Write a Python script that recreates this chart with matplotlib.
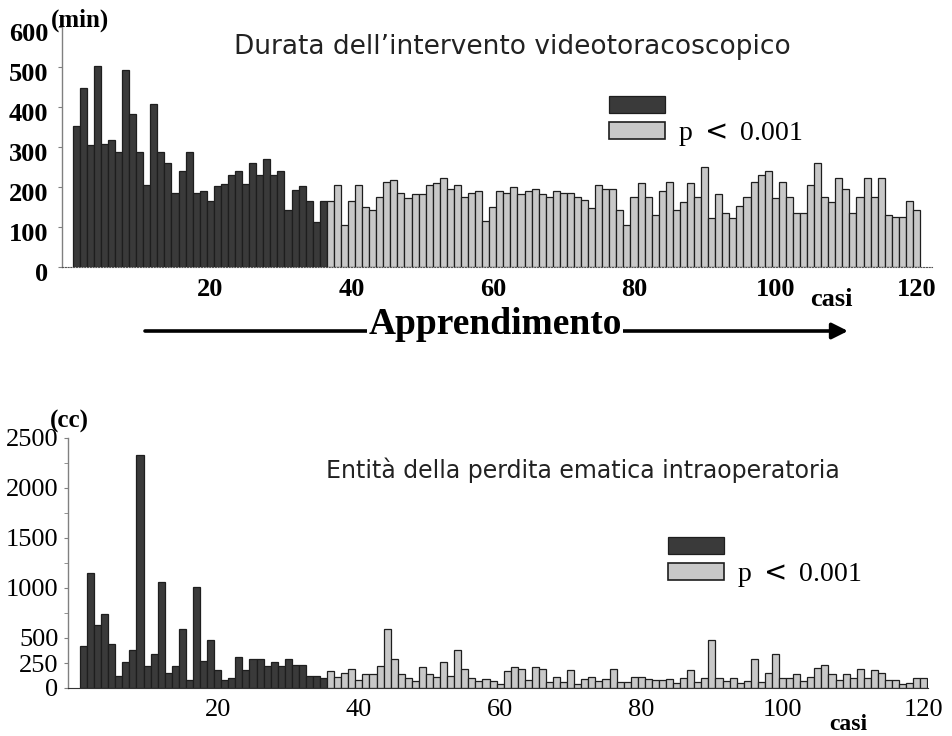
import matplotlib.pyplot as plt
import matplotlib.transforms as mtransforms
from matplotlib.patches import Patch
import numpy as np

W, H = 953, 736

# Durata dell'intervento (min), casi 1-36 (apprendimento) e 37-120
durata_learn = [352, 447, 304, 502, 307, 317, 288, 492, 383, 288, 204, 408,
                288, 260, 185, 240, 288, 185, 190, 165, 203, 208, 231, 240,
                208, 260, 231, 269, 231, 240, 142, 192, 203, 164, 112, 164]
durata_after = [166, 204, 106, 166, 204, 151, 142, 174, 213, 217, 184, 173,
                182, 182, 205, 209, 222, 194, 204, 174, 184, 191, 115, 151,
                191, 184, 201, 183, 191, 194, 183, 174, 191, 186, 184, 174,
                168, 147, 204, 194, 194, 142, 106, 174, 209,
                174, 130, 191, 212, 142, 163, 209, 174, 249, 122, 182, 134,
                122, 152, 174, 212, 230, 241, 172, 212, 174, 134, 134, 204,
                261, 174, 163, 222, 194, 134, 174, 222, 174, 222, 130, 124,
                124, 166, 142]

# Perdita ematica (cc), casi 1-35 e 36-120
perdita_learn = [423, 1150, 633, 743, 443, 117, 257, 383, 2333, 217, 343, 1060,
                 150, 223, 593, 77, 1010, 267, 483, 177, 77, 100, 307, 177,
                 290, 290, 217, 263, 217, 290, 227, 227, 117, 117, 100]
perdita_after = [173, 113, 153, 187, 80, 140, 140, 220, 590, 290, 140, 103,
                 73, 213, 140, 113, 257, 120, 380, 187, 97, 73, 93, 73,
                 40, 170, 213, 187, 80, 213, 187, 63, 113, 63, 180, 40,
                 93, 113, 67, 93, 187, 63, 63, 113,
                 107, 87, 80, 80, 93, 47, 97, 180, 63, 97, 480, 97,
                 73, 97, 47, 73, 287, 63, 147, 340, 97, 97, 140, 73,
                 107, 197, 230, 140, 80, 140, 97, 187, 97, 180, 153, 80,
                 80, 40, 47, 97, 97]

x_ticks = [20, 40, 60, 80, 100, 120]
y_ticks_top = [0, 100, 200, 300, 400, 500, 600]
y_ticks_bot = [0, 250, 500, 1000, 1500, 2000, 2500]
y_minor_bot = [750, 1250, 1750, 2250]

dark = '#3a3a3a'
light = '#c8c8c8'
edge = '#1e1e1e'
serif = 'Liberation Serif'
sans = 'DejaVu Sans'

fig = plt.figure(figsize=(W / 100, H / 100), dpi=100)


def px_axes(left, top, right, bottom):
    return fig.add_axes([left / W, 1 - bottom / H, (right - left) / W, (bottom - top) / H])


def ftext(x, y, s, **kw):
    fig.text(x / W, 1 - y / H, s, **kw)


def draw_bars(ax, learn, after):
    n1 = len(learn)
    x1 = np.arange(1, n1 + 1)
    x2 = np.arange(n1 + 1, n1 + len(after) + 1)
    ax.bar(x1, learn, width=1.0, color=dark, edgecolor=edge, linewidth=0.9)
    ax.bar(x2, after, width=1.0, color=light, edgecolor=edge, linewidth=0.9)
    for s in ['top', 'right']:
        ax.spines[s].set_visible(False)
    ax.spines['left'].set_color('#808080')
    ax.spines['left'].set_linewidth(1.0)
    ax.tick_params(axis='x', length=0)
    ax.tick_params(axis='y', direction='out', length=3, color='#808080')
    ax.set_xticks(x_ticks)


# ---- top chart
ax1 = px_axes(62, 27, 932, 267)
draw_bars(ax1, durata_learn, durata_after)
ax1.set_xlim(-1.0, 122.2)
ax1.set_ylim(0, 600)
ax1.set_yticks(y_ticks_top)
ax1.spines['bottom'].set_linestyle((0, (1, 1.5)))
ax1.spines['bottom'].set_color('#555555')
ax1.tick_params(axis='y', pad=7)
ax1.tick_params(axis='x', pad=8)
shift = mtransforms.ScaledTranslation(0, -5 / 100, fig.dpi_scale_trans)
for lab in ax1.get_yticklabels():
    lab.set_transform(lab.get_transform() + shift)
for lab in ax1.get_yticklabels() + ax1.get_xticklabels():
    lab.set_fontfamily(serif)
    lab.set_fontweight('bold')
    lab.set_fontsize(19)

ftext(51, 20, '(min)', fontfamily=serif, fontweight='bold', fontsize=18, ha='left', va='center')
ftext(512, 47, 'Durata dell\u2019intervento videotoracoscopico', fontfamily=sans,
      fontsize=19, color='#222222', ha='center', va='center')
ftext(831, 300, 'casi', fontfamily=serif, fontweight='bold', fontsize=19, ha='center', va='center')

handles = [Patch(facecolor=dark, edgecolor=edge, linewidth=0.9),
           Patch(facecolor=light, edgecolor=edge, linewidth=1.2)]
legend_kw = dict(loc='upper left', bbox_transform=fig.transFigure,
                 frameon=False, borderpad=0, borderaxespad=0, handlelength=2.0,
                 handleheight=0.55, handletextpad=0.5, labelspacing=0.0,
                 prop={'family': serif, 'size': 20})
ax1.legend(handles, [' ', 'p $<$ 0.001'], bbox_to_anchor=(609 / W, 1 - 95 / H), **legend_kw)

# learning arrow
ax1.annotate('', xy=(848, H - 331), xytext=(145, H - 331),
             xycoords='figure pixels', textcoords='figure pixels',
             arrowprops=dict(arrowstyle='-|>', lw=2.6, color='black',
                             mutation_scale=24, shrinkA=0, shrinkB=0))
ftext(495, 325, 'Apprendimento', fontfamily=serif, fontweight='bold', fontsize=27,
      ha='center', va='center',
      bbox=dict(facecolor='white', edgecolor='none', pad=1))

# ---- bottom chart
ax2 = px_axes(68, 438, 928, 688)
draw_bars(ax2, perdita_learn, perdita_after)
ax2.set_xlim(-1.2, 120.6)
ax2.set_ylim(0, 2500)
ax2.set_yticks(y_ticks_bot)
ax2.set_yticks(y_minor_bot, minor=True)
ax2.tick_params(axis='y', which='minor', direction='out', length=3, color='#808080')
ax2.spines['bottom'].set_color('#333333')
ax2.tick_params(axis='y', pad=4)
ax2.tick_params(axis='x', pad=8)
for lab in ax2.get_yticklabels() + ax2.get_xticklabels():
    lab.set_fontfamily(serif)
    lab.set_fontsize(19)

ftext(69, 421, '(cc)', fontfamily=serif, fontweight='bold', fontsize=18, ha='center', va='center')
ftext(583, 470, 'Entit\u00e0 della perdita ematica intraoperatoria', fontfamily=sans,
      fontsize=17, color='#222222', ha='center', va='center')
ftext(848, 724, 'casi', fontfamily=serif, fontweight='bold', fontsize=17, ha='center', va='center')

ax2.legend(handles, [' ', 'p $<$ 0.001'], bbox_to_anchor=(668 / W, 1 - 536 / H), **legend_kw)

fig.savefig('out.png', dpi=100)
